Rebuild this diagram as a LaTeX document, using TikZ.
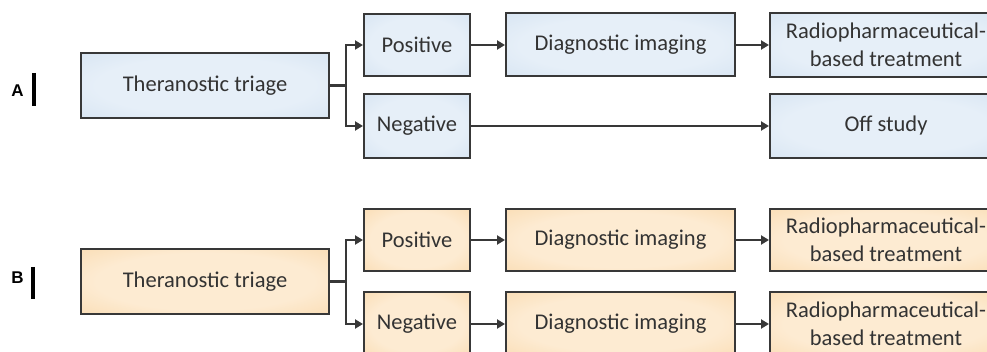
\documentclass[tikz,border=0pt]{standalone}
\usepackage{fontspec}
\setmainfont{Carlito}
\newfontfamily\labfont{Liberation Sans}
\usetikzlibrary{arrows.meta}
\definecolor{txt}{HTML}{333333}
\definecolor{edge}{HTML}{383838}
\definecolor{bluein}{HTML}{E6EFF8}
\definecolor{blueout}{HTML}{C1D5EA}
\definecolor{orin}{HTML}{FDEBD2}
\definecolor{orout}{HTML}{F6C888}
\pgfdeclareradialshading{blueglow}{\pgfpoint{0bp}{0bp}}{color(0bp)=(bluein);color(22bp)=(bluein);color(60bp)=(blueout);color(75bp)=(blueout)}
\pgfdeclareradialshading{orglow}{\pgfpoint{0bp}{0bp}}{color(0bp)=(orin);color(22bp)=(orin);color(60bp)=(orout);color(75bp)=(orout)}
\tikzset{
  box/.style={draw=edge, line width=2pt, text=txt, inner sep=0pt, align=center,
    font=\fontsize{22.5}{28}\selectfont},
  bbox/.style={box, shading=blueglow},
  obox/.style={box, shading=orglow},
  arr/.style={draw=edge, line width=2.6pt, -{Triangle[length=8pt,width=9pt]}},
  ln/.style={draw=edge, line width=2.6pt},
  lab/.style={font=\labfont\bfseries\fontsize{17}{17}\selectfont, text=black, inner sep=0pt},
  bar/.style={draw=black, line width=3.4pt},
}
\begin{document}
\begin{tikzpicture}[x=1pt,y=-1pt]
\useasboundingbox (0,0) rectangle (987,352);
\clip (0,0) rectangle (987,352);
\fill[white] (0,0) rectangle (987,352);
% ---------- Panel A ----------
\node[lab] (labA) at (17.5,90.5) {A};
\coordinate (barAt) at (34,73);
\coordinate (barAb) at (34,106);
\draw[bar] (barAt) -- (barAb);
\node[bbox, minimum width=248pt, minimum height=65pt] (triA) at (205,85.5) {Theranostic triage};
\node[bbox, minimum width=106pt, minimum height=62pt] (posA) at (417,45) {Positive};
\node[bbox, minimum width=229pt, minimum height=63pt] (diagA) at (620.5,45) {Diagnostic imaging};
\node[bbox, minimum width=232pt, minimum height=64pt] (radA) at (886,45) {Radiopharmaceutical-\\based treatment};
\node[bbox, minimum width=106pt, minimum height=64pt] (negA) at (417,126) {Negative};
\node[bbox, minimum width=232pt, minimum height=64pt] (offA) at (886,126) {Off study};
\draw[ln] (triA.east) -- ++(16,0) coordinate (jA);
\draw[arr] (jA) |- (posA.west);
\draw[arr] (jA) |- (negA.west);
\draw[arr] (posA.east) -- (diagA.west);
\draw[arr] (diagA.east) -- (radA.west);
\draw[arr] (negA.east) -- (offA.west);
% ---------- Panel B ----------
\node[lab] (labB) at (17.5,278) {B};
\coordinate (barBt) at (33,267);
\coordinate (barBb) at (33,299);
\draw[bar] (barBt) -- (barBb);
\node[obox, minimum width=248pt, minimum height=65pt] (triB) at (205,281.5) {Theranostic triage};
\node[obox, minimum width=106pt, minimum height=62pt] (posB) at (417,240) {Positive};
\node[obox, minimum width=229pt, minimum height=62pt] (diagB) at (620.5,240) {Diagnostic imaging};
\node[obox, minimum width=232pt, minimum height=62pt] (radB) at (886,240) {Radiopharmaceutical-\\based treatment};
\node[obox, minimum width=106pt, minimum height=64pt] (negB) at (417,324) {Negative};
\node[obox, minimum width=229pt, minimum height=64pt] (diagB2) at (620.5,324) {Diagnostic imaging};
\node[obox, minimum width=232pt, minimum height=64pt] (radB2) at (886,324) {Radiopharmaceutical-\\based treatment};
\draw[ln] (triB.east) -- ++(16,0) coordinate (jB);
\draw[arr] (jB) |- (posB.west);
\draw[arr] (jB) |- (negB.west);
\draw[arr] (posB.east) -- (diagB.west);
\draw[arr] (diagB.east) -- (radB.west);
\draw[arr] (negB.east) -- (diagB2.west);
\draw[arr] (diagB2.east) -- (radB2.west);
\end{tikzpicture}
\end{document}
